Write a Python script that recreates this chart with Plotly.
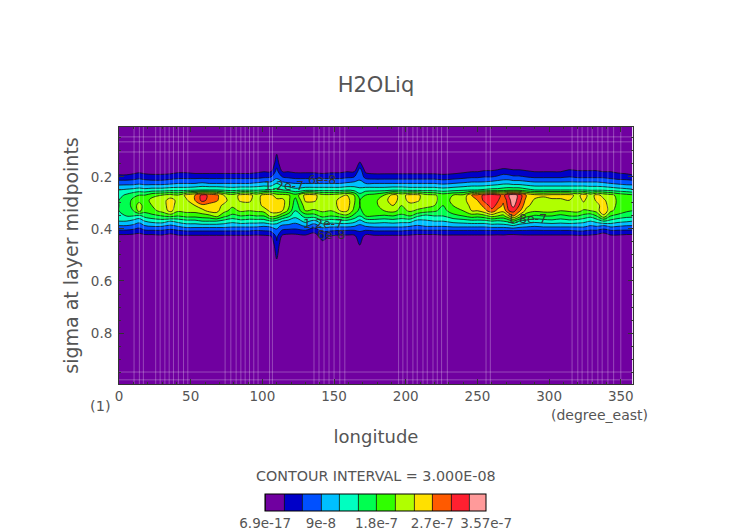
import plotly.graph_objects as go
import numpy as np

title_text = "H2OLiq"
interval_text = "CONTOUR INTERVAL = 3.000E-08"

level_colors = ["#7000a0", "#0000c8", "#0050ff", "#00c0ff", "#00ffc0", "#00ff50",
                "#30ff00", "#b0ff00", "#ffe000", "#ff5a00", "#ff2030", "#ff9a9a"]
bar_ticks = [0, 9e-8, 1.8e-7, 2.7e-7, 3.57e-7]
bar_labels = ["6.9e-17", "9e-8", "1.8e-7", "2.7e-7", "3.57e-7"]

sigma = [0.008, 0.12, 0.15, 0.18, 0.2, 0.225, 0.25, 0.27, 0.29, 0.31, 0.33,
         0.35, 0.37, 0.39, 0.41, 0.43, 0.46, 0.52, 0.996]

# one vertical profile per longitude, in units of 1e-8
profiles = {
    0: [0,0,0,1.5,4,8,12,14,15,15,15,14,12,8.5,5,1.5,0,0,0],
    5: [0,0,0,1.5,4,8,12.5,15.5,16,16.5,16,15,12,8.5,5,1.5,0,0,0],
    10: [0,0,0,2,4.5,8,13,17,19,19,18,15,11,8,4.5,1.5,0,0,0],
    14: [0,0,0,2.5,5,8.5,13.5,18,20,22.5,22,14,10,7,4,1,0,0,0],
    18: [0,0,0,2,4.5,8,13,18,19.5,19.5,19,16,12,8.5,5,1.5,0,0,0],
    23: [0,0,0,2,4,8,13.5,20,22,21,20,17,13,9,5,1.5,0,0,0],
    30: [0,0,0,2,4,8,13.5,21,22.5,22.5,22,18,13.5,9,5,2,0,0,0],
    36: [0,0,0,2,4.5,8.5,14,22,25.5,25.5,25,19,12,8,4.5,1,0,0,0],
    41: [0,0,0,2.5,5,9,14,21,23,22.5,21.5,18,13,9,5,2,0,0,0],
    47: [0,0,0,2.5,5,9,14,25,23.5,22.5,22,19,14,10,5.5,2,0,0,0],
    53: [0,0,0,2,5,9,14.5,27,27,24,22,19,14,10,5.5,2,0,0,0],
    58: [0,0,0,2,5,9.5,15,31,31,26,23,19.5,15,10,5.5,2,0,0,0],
    63: [0,0,0,2,5,9,15,29.5,29,25.5,25,20,15,10,5.5,2,0,0,0],
    68: [0,0,0,2,5,9,15,28,27.5,25,25,22,15,10,5.5,2,0,0,0],
    73: [0,0,0,2,5,9,14.5,24,25,23.5,22,19,14,10,5.5,2,0,0,0],
    79: [0,0,0,2,5,9,14,22,22.5,21.5,20,17,13,9.5,5.5,2,0,0,0],
    85: [0,0,0,2,5,9,14.5,25,24.5,22.5,21.5,18,14,9.5,5.5,2,0,0,0],
    91: [0,0,0,2,5,9,14.5,25,24.5,23,21,17.5,13.5,9.5,5.5,2,0,0,0],
    96: [0,0,0,2.5,5,9.5,14.5,22.5,22.5,22,21.5,18,13.5,9.5,5,2,0,0,0],
    101: [0,0,0,3,5.5,10,15,25,25.5,25,22,18,13.5,9,5.5,2,0,0,0],
    106: [0,0,0,3,6,10,15,25,26,26,25,22,15,9.5,6,2.5,0,0,0],
    110: [0,3.2,5,7,8,12,16,22,25,26,26,21,14,10,8,6.5,5.5,2.8,0],
    114: [0,0,0,3,6,10,15,22,25,25,24,18,12,8,5,2,0,0,0],
    118: [0,0,0,3,5.5,9.5,14.5,21.5,22,22,20.5,16,11,8,4.5,1.5,0,0,0],
    123: [0,0,0,2.5,5,9,13,19,17,16,15,13,10,7.5,4.5,1.5,0,0,0],
    130: [0,0,0,2.5,5,9,14,25,24.5,22.5,21,16,13,9,5,2,0,0,0],
    136: [0,0,0,2.5,5,9,14,25,24.5,22.5,20.5,16.5,11,7,3.5,1.5,0,0,0],
    142: [0,0,0,2,5,9,14,22,22.5,22,21.5,19,14,10,6,4,2,0,0],
    148: [0,0,0,2.5,5,9,14,22,22,22,21,18,13.5,9.5,5.5,2.5,0,0,0],
    154: [0,0,0,2.5,5,9,14,23,25,25,24,19,14,9.5,5,2,0,0,0],
    159: [0,0,0,3,5.5,9.5,14.5,24,25.5,25.5,24.5,20,14,9.5,5,2,0,0,0],
    164: [0,0,0,3,6,10,14,21,21.5,21,20,17,13,9,5,2,0,0,0],
    168: [0,0,4,8,8,10,13,16,18,18,17,15,11,8,6,5,3.4,0,0],
    172: [0,0,0,2.5,5,9,14,18,19,19.5,20,18,13,9,5,1.5,0,0,0],
    178: [0,0,0,2,4.5,9,14,19,20,20,20,18,13.5,9.5,5.5,2,0,0,0],
    185: [0,0,0,2,4.5,9,14,21,23,22.5,21,17.5,13,9.5,5.5,2,0,0,0],
    191: [0,0,0,2,4.5,9,14.5,25,25.5,24,22,18,13.5,9.5,5.5,2,0,0,0],
    197: [0,0,0,2,4.5,9,14.5,23,22.5,21,20,17,13,9.5,5.5,2,0,0,0],
    203: [0,0,0,2,4.5,9,14,25,25,23,21.5,18,13,9,5,2,0,0,0],
    208: [0,0,0,2,4.5,9,14,25,24.5,22.5,20.5,15.5,11,8.5,5,1.5,0,0,0],
    214: [0,0,0,2,4.5,9,14,22,22.5,22,19.5,14,11.5,9,5,1.5,0,0,0],
    220: [0,0,0,2,4.5,9,14,21.5,22,21,18.5,15,12,9,5,1.5,0,0,0],
    226: [0,0,0,2,4,8.5,13.5,19.5,19,18,17,15,12,9,5,2,0,0,0],
    233: [0,0,0,2,4.5,9,14,21,22,21,19.5,17,13,9.5,5,2,0,0,0],
    240: [0,0,0,2.5,5,9.5,14.5,21.5,22.5,22,21,18,13.5,9.5,5,2,0,0,0],
    246: [0,0,0,3,5.5,10,15,27,26.5,25,24,19.5,14,9.5,5,2,0,0,0],
    250: [0,0,0,3,5.5,10,15,28,27,25.5,24,19,14,9.5,5,2,0,0,0],
    255: [0,0,0,3.5,6,10,15.5,31,31,28,26,20,14,9.5,5,2,0,0,0],
    260: [0,0,0,3.5,6,10.5,16,32,32,31.5,29,22,15,10,5,2,0,0,0],
    264: [0,0,0,4,6.5,11,16,31,30.5,29,26,21,14.5,10,5,1.8,0,0,0],
    268: [0,0,0,5,7,11.5,16.5,29,27.5,26.5,25,20,15,10,5,2,0,0,0],
    272: [0,0,0,4.5,7,11.5,17,33,32,31.5,30,24,16,10.5,5,1.5,0,0,0],
    275: [0,0,0,4,6.5,11,17,35,35,34,31,27,18,11,5,1.5,0,0,0],
    279: [0,0,0,4,6.5,11,17,32,31.5,30,28,23,15,10,5,1.8,0,0,0],
    284: [0,0,0,3.5,6,10.5,16,27,26,25,23,19,14,9.5,5,2,0,0,0],
    290: [0,0,0,3,5.5,10,15,25,23.5,22.5,21.5,17.5,13,9,5,2,0,0,0],
    296: [0,0,0,3,5.5,10,15,24.5,23,22.5,22,18,13.5,9.5,5,2,0,0,0],
    302: [0,0,0,3,5.5,10,15,25,23.5,22.5,22,18,14,9.5,5,2,0,0,0],
    308: [0,0,0,3,5.5,10,15,25,23.5,22.5,21,17,13.5,9.5,5,2,0,0,0],
    314: [0,0,0,4,6,10,15,25,24,22.5,21.5,18,14,9.5,5,2,0,0,0],
    320: [0,0,0,3.5,5.5,10,15,23,22.5,22.5,22,18,13.5,9.5,5.5,2,0,0,0],
    324: [0,0,0,3.5,5.5,10,15,25.5,24.5,23,20.5,17,13,9.5,5.5,2,0,0,0],
    329: [0,0,0,3.5,5.5,10,14.5,22.5,22,22,21,16,12,8.5,5,2,0,0,0],
    333: [0,0,0,3.5,5.5,10,14.5,25,24.5,22.5,22,18,13,9,5,1.5,0,0,0],
    338: [0,0,0,3,5.5,9.5,14.5,23,24.5,26,27,23,15,8,4,0.5,0,0,0],
    343: [0,0,0,3,5,9,14,22,22.5,22,21.5,18,14,9.5,5,2,0,0,0],
    348: [0,0,0,2.5,4.5,8.5,13.5,20,20.5,20.5,20,17,13,9,5,2,0,0,0],
    354: [0,0,0,2,4.5,8,13,19,19,19,18.5,16,12.5,8.5,5,1.5,0,0,0],
    358: [0,0,0,1.5,4,8,12.5,18.5,19,18.5,18,16,12,8.5,5,1.5,0,0,0],
}

# pale streaks the original rendering leaves across the fill
streak_lons = [10.5, 14.2, 17, 25.6, 28.7, 32, 35, 38, 41.4, 45, 48,
               74, 78, 81.7, 85, 88, 91, 94, 97, 105, 107,
               136, 139.5, 143, 146.5, 150, 154, 157.5,
               195, 198, 201, 205, 208, 212, 215, 219, 222, 225, 229,
               256, 259, 316, 320, 323, 327, 330, 334, 337, 341, 345, 350]
streak_sigmas = [0.046, 0.065, 0.104, 0.95, 0.98]

label_lons = [115, 141.5, 142, 148, 284.5]
label_sigmas = [0.231, 0.208, 0.38, 0.423, 0.358]
label_texts = ["1.2e-7", "6e-8", "1.2e-7", "6e-8", "1.8e-7"]

lons = list(profiles.keys())
# the field's minimum is 6.9e-17, so nothing sits exactly on the 0 contour
z = np.maximum(np.array(list(profiles.values())).T * 1e-8, 6.9e-17)

FONT = "DejaVu Sans"
GREY = "#555555"
PLOT_L, PLOT_T, PLOT_W, PLOT_H = 119, 127, 514, 257
Z_MAX = 3.57e-7
STEP = 3e-8


def px(x):
    return (x - PLOT_L) / PLOT_W


def py(y):
    return 1 - (y - PLOT_T) / PLOT_H


# fill colours get looked up at (k + 0.5) / 11, the top band clamps to the last stop
colorscale = []
for i, c in enumerate(level_colors[:-1]):
    colorscale += [[i / 11, c], [(i + 1) / 11, c]]
colorscale.append([1, level_colors[-1]])

fig = go.Figure()

fig.add_trace(go.Contour(
    x=lons, y=sigma, z=z,
    zmin=0, zmax=Z_MAX,
    colorscale=colorscale,
    contours=dict(start=0, end=3.3e-7, size=STEP, coloring="fill"),
    line=dict(color="#111111", width=0.8),
    colorbar=dict(
        orientation="h",
        lenmode="pixels", len=221,
        thicknessmode="pixels", thickness=17,
        xpad=0, ypad=0,
        x=375.5 / 752, xanchor="center",
        y=38 / 532, yref="container", yanchor="top",
        outlinecolor="black", outlinewidth=1,
        tickmode="array", tickvals=bar_ticks, ticktext=bar_labels,
        ticks="", tickfont=dict(family=FONT, size=13.5, color=GREY),
    ),
    hoverinfo="skip",
))

# streaks
sx, sy = [], []
for lon in streak_lons:
    sx += [lon, lon, None]
    sy += [0.008, 0.996, None]
for s in streak_sigmas:
    sx += [0, 358.5, None]
    sy += [s, s, None]
fig.add_trace(go.Scatter(x=sx, y=sy, mode="lines", showlegend=False, hoverinfo="skip",
                         line=dict(color="rgba(255,255,255,0.28)", width=1)))

for lon, s, t in zip(label_lons, label_sigmas, label_texts):
    fig.add_annotation(x=lon, y=s, text=t, showarrow=False,
                       font=dict(family=FONT, size=12.5, color="#333333"))

fig.update_layout(
    width=752, height=532,
    margin=dict(l=119, r=119, t=127, b=148),
    paper_bgcolor="white", plot_bgcolor="white",
    showlegend=False,
    font=dict(family=FONT, color=GREY),
    title=dict(text=title_text, x=376 / 752, xanchor="center", y=1 - 85 / 532, yanchor="middle",
               font=dict(family=FONT, size=21, color=GREY)),
    xaxis=dict(
        range=[0, 358.5], tickvals=[0, 50, 100, 150, 200, 250, 300, 350],
        ticks="inside", ticklen=5, tickcolor="#333333", mirror="ticks",
        minor=dict(dtick=10, ticks="inside", ticklen=2, tickcolor="#333333"),
        showline=True, linecolor="#333333", showgrid=False, zeroline=False,
        tickfont=dict(family=FONT, size=13.5, color=GREY),
        title=dict(text="longitude", font=dict(family=FONT, size=18, color=GREY), standoff=27),
    ),
    yaxis=dict(
        range=[0.996, 0.008], tickvals=[0.2, 0.4, 0.6, 0.8],
        ticks="inside", ticklen=5, tickcolor="#333333", mirror="ticks",
        minor=dict(dtick=0.05, ticks="inside", ticklen=2, tickcolor="#333333"),
        showline=True, linecolor="#333333", showgrid=False, zeroline=False,
        ticklabelstandoff=3,
        tickfont=dict(family=FONT, size=13.5, color=GREY),
        title=dict(text="sigma at layer midpoints", font=dict(family=FONT, size=19, color=GREY), standoff=7),
    ),
)

fig.add_annotation(x=px(100), y=py(406), xref="paper", yref="paper", text="(1)", showarrow=False,
                   xanchor="center", yanchor="middle", font=dict(family=FONT, size=14.5, color=GREY))
fig.add_annotation(x=px(599), y=py(415), xref="paper", yref="paper", text="(degree_east)", showarrow=False,
                   xanchor="center", yanchor="middle", font=dict(family=FONT, size=14, color=GREY))
fig.add_annotation(x=px(376), y=py(476), xref="paper", yref="paper", text=interval_text, showarrow=False,
                   xanchor="center", yanchor="middle", font=dict(family=FONT, size=14.3, color=GREY))

fig.write_html("out.html", config=dict(displayModeBar=False),
               post_script="document.body.style.margin='0'")
